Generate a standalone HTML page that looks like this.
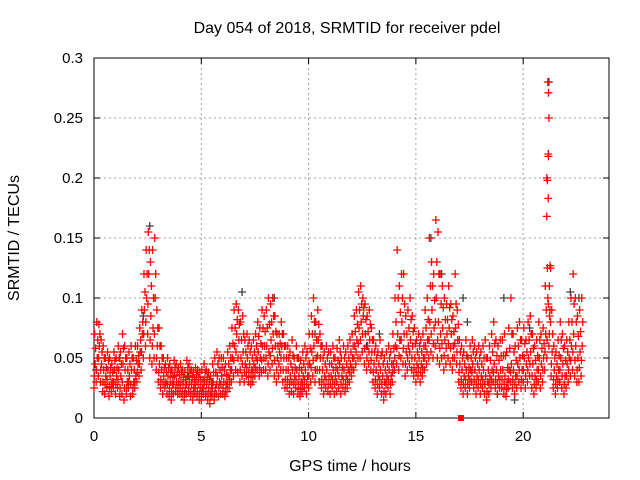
<!DOCTYPE html>
<html><head><meta charset="utf-8"><style>
body{margin:0;background:#fff}
svg{display:block;font-family:"Liberation Sans",sans-serif}
</style></head><body>
<svg id="chart" width="640" height="480" xmlns="http://www.w3.org/2000/svg">
<text x="347" y="33" font-size="16" text-anchor="middle">Day 054 of 2018, SRMTID for receiver pdel</text>
<text x="350" y="471" font-size="16" text-anchor="middle">GPS time / hours</text>
<text x="0" y="0" font-size="16" text-anchor="middle" transform="translate(19,238) rotate(-90)">SRMTID / TECUs</text>
<g id="grid"></g>
<g id="axes"></g>
<g id="marks"></g>
</svg>
<script>
const xTicks=[0,5,10,15,20];
const yTicks=[0,0.05,0.1,0.15,0.2,0.25,0.3];
const yTickLabels=["0","0.05","0.1","0.15","0.2","0.25","0.3"];
const lowVals=[.025,.03,.035,.03,.022,.02,.025,.018,.022,.025,
.02,.025,.018,.02,.015,.02,.025,.018,.02,.025,
.03,.035,.04,.05,.06,.07,.05,.045,.05,.04,
.03,.025,.02,.025,.02,.018,.015,.02,.022,.02,
.02,.018,.015,.02,.022,.018,.015,.02,.018,.015,
.015,.02,.018,.015,.012,.018,.015,.02,.018,.02,
.02,.018,.022,.025,.03,.035,.04,.038,.03,.035,
.03,.035,.03,.028,.03,.035,.04,.035,.038,.04,
.04,.035,.04,.045,.035,.03,.035,.04,.03,.025,
.025,.02,.022,.02,.025,.02,.018,.022,.025,.02,
.025,.03,.035,.03,.04,.03,.025,.02,.025,.022,
.02,.025,.02,.022,.025,.02,.025,.022,.025,.03,
.035,.04,.045,.05,.05,.055,.045,.04,.045,.04,
.03,.025,.02,.025,.02,.015,.02,.025,.02,.03,
.04,.045,.04,.05,.045,.035,.04,.045,.04,.035,
.03,.035,.03,.035,.04,.045,.05,.055,.05,.06,
.05,.045,.05,.04,.045,.05,.045,.04,.05,.045,
.03,.025,.02,.025,.02,.025,.03,.025,.02,.025,
.02,.025,.02,.015,.02,.025,.03,.025,.02,.025,
.025,.02,.018,.025,.03,.025,.02,.025,.03,.025,
.03,.025,.03,.035,.025,.02,.025,.03,.025,.03,
.04,.05,.06,.035,.025,.02,.025,.03,.025,.02,
.025,.03,.035,.04,.035,.03,.03,.035];
const q1Vals=[.035,.04,.05,.04,.03,.028,.032,.026,.028,.03,
.028,.032,.025,.03,.025,.025,.03,.028,.025,.03,
.038,.045,.055,.07,.08,.095,.065,.06,.07,.05,
.038,.032,.028,.028,.028,.025,.022,.028,.025,.025,
.025,.022,.02,.028,.025,.022,.02,.025,.022,.02,
.02,.025,.022,.02,.018,.025,.02,.028,.025,.028,
.025,.022,.028,.032,.04,.048,.055,.05,.04,.045,
.038,.042,.038,.034,.038,.042,.048,.042,.048,.05,
.05,.045,.052,.058,.048,.04,.045,.05,.04,.032,
.032,.028,.03,.028,.032,.028,.024,.028,.032,.028,
.035,.042,.048,.04,.052,.04,.032,.028,.032,.028,
.028,.032,.028,.03,.035,.028,.032,.028,.032,.038,
.042,.05,.055,.062,.065,.07,.058,.05,.055,.048,
.038,.032,.028,.032,.028,.022,.028,.032,.028,.038,
.05,.058,.052,.065,.058,.045,.05,.055,.05,.042,
.038,.042,.038,.042,.05,.055,.065,.07,.062,.08,
.065,.058,.062,.052,.058,.062,.058,.05,.062,.055,
.038,.032,.028,.032,.028,.032,.038,.032,.028,.032,
.028,.032,.028,.022,.028,.032,.038,.032,.028,.032,
.032,.028,.024,.032,.038,.032,.028,.035,.04,.032,
.04,.035,.04,.045,.035,.028,.032,.04,.035,.04,
.055,.065,.07,.045,.032,.028,.032,.04,.035,.028,
.035,.04,.048,.055,.048,.04,.042,.048];
const midVals=[.045,.05,.06,.045,.04,.035,.04,.035,.03,.04,
.035,.04,.035,.045,.04,.03,.035,.04,.03,.035,
.045,.055,.07,.09,.1,.12,.085,.075,.1,.06,
.045,.04,.035,.03,.035,.03,.028,.035,.03,.03,
.03,.028,.025,.035,.03,.028,.025,.03,.028,.025,
.025,.03,.028,.025,.022,.03,.025,.035,.03,.035,
.03,.028,.035,.04,.05,.06,.07,.065,.05,.055,
.045,.05,.045,.04,.045,.05,.055,.05,.06,.06,
.06,.055,.065,.07,.06,.05,.055,.06,.05,.04,
.04,.035,.04,.035,.04,.035,.03,.035,.04,.035,
.045,.055,.06,.05,.065,.05,.04,.035,.04,.035,
.035,.04,.035,.04,.045,.035,.04,.035,.04,.045,
.05,.06,.065,.075,.08,.085,.07,.06,.065,.055,
.045,.04,.035,.04,.035,.03,.035,.04,.035,.045,
.06,.07,.065,.08,.07,.055,.06,.065,.06,.05,
.045,.05,.045,.05,.06,.065,.08,.09,.075,.1,
.08,.07,.075,.065,.07,.075,.07,.06,.075,.065,
.045,.04,.035,.04,.035,.04,.045,.04,.035,.04,
.035,.04,.035,.03,.035,.04,.045,.04,.035,.04,
.04,.035,.03,.04,.045,.04,.035,.045,.05,.04,
.05,.045,.05,.055,.045,.035,.04,.05,.045,.05,
.07,.1,.09,.055,.04,.035,.04,.05,.045,.035,
.045,.05,.06,.07,.06,.05,.055,.06];
const q2Vals=[.058,.065,.07,.055,.05,.042,.048,.042,.038,.048,
.042,.05,.045,.058,.05,.04,.045,.05,.04,.048,
.052,.065,.08,.105,.12,.14,.11,.1,.12,.075,
.06,.05,.042,.038,.042,.038,.034,.042,.038,.036,
.038,.034,.032,.042,.038,.034,.032,.036,.034,.032,
.032,.038,.034,.032,.028,.038,.038,.045,.04,.042,
.04,.036,.045,.05,.062,.075,.082,.078,.065,.07,
.055,.06,.055,.05,.055,.06,.068,.062,.075,.072,
.075,.078,.08,.085,.072,.06,.062,.07,.06,.05,
.05,.045,.052,.042,.05,.042,.04,.045,.05,.045,
.058,.07,.08,.065,.078,.06,.05,.045,.05,.045,
.045,.05,.042,.048,.055,.042,.05,.045,.05,.055,
.06,.072,.078,.09,.095,.092,.082,.072,.078,.065,
.055,.05,.045,.052,.045,.04,.045,.05,.045,.058,
.08,.1,.088,.1,.095,.07,.075,.082,.072,.062,
.055,.06,.055,.06,.075,.082,.11,.11,.098,.13,
.12,.095,.092,.082,.082,.092,.082,.072,.095,.078,
.055,.05,.045,.052,.042,.05,.055,.05,.045,.05,
.045,.05,.05,.04,.048,.055,.062,.052,.048,.052,
.052,.052,.042,.058,.07,.055,.048,.06,.065,.052,
.062,.055,.065,.07,.058,.048,.052,.065,.058,.062,
.09,.095,.08,.07,.05,.045,.052,.065,.058,.048,
.055,.065,.08,.095,.08,.068,.072,.08];
const highVals=[.07,.08,.078,.065,.06,.05,.055,.05,.045,.055,
.05,.06,.055,.07,.06,.05,.055,.06,.05,.06,
.06,.075,.09,.12,.14,.155,.13,.14,.15,.09,
.075,.06,.05,.045,.05,.045,.04,.048,.045,.042,
.045,.04,.038,.048,.045,.04,.038,.042,.04,.038,
.04,.045,.04,.038,.035,.045,.05,.055,.05,.05,
.05,.045,.055,.06,.075,.09,.095,.09,.08,.085,
.065,.07,.065,.06,.065,.07,.08,.075,.09,.085,
.09,.1,.095,.1,.085,.07,.07,.08,.07,.06,
.06,.055,.065,.05,.06,.05,.048,.055,.06,.055,
.07,.085,.1,.08,.09,.07,.06,.055,.06,.055,
.055,.06,.05,.058,.065,.05,.06,.055,.06,.065,
.07,.085,.09,.105,.11,.1,.095,.085,.09,.075,
.065,.06,.055,.065,.055,.05,.055,.06,.055,.07,
.1,.14,.11,.12,.12,.085,.09,.1,.085,.075,
.065,.07,.065,.07,.09,.1,.15,.13,.12,.165,
.155,.12,.11,.1,.095,.11,.095,.085,.12,.09,
.065,.06,.055,.065,.05,.06,.065,.06,.055,.06,
.055,.06,.065,.05,.06,.07,.08,.065,.06,.065,
.065,.07,.055,.075,.1,.07,.06,.075,.08,.065,
.075,.065,.08,.085,.07,.06,.065,.08,.07,.075,
.11,.125,.085,.09,.06,.055,.065,.08,.07,.06,
.065,.08,.1,.12,.1,.085,.09,.1];
const spikeT=[21.15,21.18,21.2,21.17,21.18,21.1,21.13,21.17,21.1,21.25,21.28,21.22];
const spikeV=[0.28,0.271,0.25,0.22,0.218,0.2,0.198,0.183,0.168,0.127,0.125,0.11];
const grayT=[0.1,2.3,2.6,6.9,8.4,10.3,12.7,15.7,16.2,17.2,17.4,19.1,19.6,20.3,21.2,22.2,22.6,1.2,4.4,13.3,18.8,5.5];
const grayV=[0.04,0.085,0.16,0.105,0.1,0.07,0.06,0.15,0.12,0.1,0.08,0.1,0.015,0.075,0.28,0.105,0.1,0.05,0.035,0.07,0.02,0.03];
const zeroT=[17.1];
const zeroV=[0];

const X0=94,X1=609,Y0=418,Y1=58,XMAX=24,YMAX=0.3;
const xs=t=>X0+(X1-X0)*t/XMAX;
const ys=v=>Y0-(Y0-Y1)*v/YMAX;
const NS="http://www.w3.org/2000/svg";
function mk(tag,attrs,parent){const e=document.createElementNS(NS,tag);for(const k in attrs)e.setAttribute(k,attrs[k]);parent.appendChild(e);return e;}
const grid=document.getElementById('grid'),axes=document.getElementById('axes'),marks=document.getElementById('marks');
xTicks.forEach(t=>{
  if(t>0){const l=mk('line',{x1:xs(t),x2:xs(t),y1:Y1,y2:Y0,stroke:'#a0a0a0','stroke-dasharray':'2,3'},grid);
  
  }
  const tk=mk('line',{x1:xs(t),x2:xs(t),y1:Y0,y2:Y0-6,stroke:'#000'},axes);
  
  
  const tk2=mk('line',{x1:xs(t),x2:xs(t),y1:Y1,y2:Y1+6,stroke:'#000'},axes);
  
  
  const tx=mk('text',{x:xs(t),y:Y0+23,'font-size':15,'text-anchor':'middle'},axes);tx.textContent=String(t);
  
  
});
yTicks.forEach((v,i)=>{
  if(v>0&&v<YMAX){const l=mk('line',{x1:X0,x2:X1,y1:ys(v),y2:ys(v),stroke:'#a0a0a0','stroke-dasharray':'2,3'},grid);
  
  }
  const tk=mk('line',{x1:X0,x2:X0+6,y1:ys(v),y2:ys(v),stroke:'#000'},axes);
  
  
  const tk2=mk('line',{x1:X1,x2:X1-6,y1:ys(v),y2:ys(v),stroke:'#000'},axes);
  
  
  const tx=mk('text',{x:X0-11,y:ys(v)+5,'font-size':15,'text-anchor':'end'},axes);tx.textContent=yTickLabels[i];
  
  
});
const fr=mk('rect',{x:X0,y:Y1,width:X1-X0,height:Y0-Y1,fill:'none',stroke:'#000'},axes);


function plus(t,v,color,name){
  const x=xs(t),y=ys(v);
  const p=mk('path',{d:`M${x-4} ${y}h8M${x} ${y-4}v8`,stroke:color,'stroke-width':1.3,fill:'none'},marks);
  
  
}
grayT.forEach((t,i)=>plus(t,grayV[i],'#404040','gray-point'));
lowVals.forEach((v,i)=>plus(i*0.1,v,'#ff0000','srmtid-point'));
q1Vals.forEach((v,i)=>plus(i*0.1+0.015,v,'#ff0000','srmtid-point'));
midVals.forEach((v,i)=>plus(i*0.1+0.05,v,'#ff0000','srmtid-point'));
q2Vals.forEach((v,i)=>plus(i*0.1+0.075,v,'#ff0000','srmtid-point'));
highVals.forEach((v,i)=>plus(i*0.1+0.03,v,'#ff0000','srmtid-point'));
spikeT.forEach((t,i)=>plus(t,spikeV[i],'#ff0000','srmtid-spike-point'));
zeroT.forEach((t,i)=>{
  const r=mk('rect',{x:xs(t)-3,y:ys(zeroV[i])-3,width:6,height:6,fill:'#ff0000'},marks);
  
  
});
</script>
</body></html>
